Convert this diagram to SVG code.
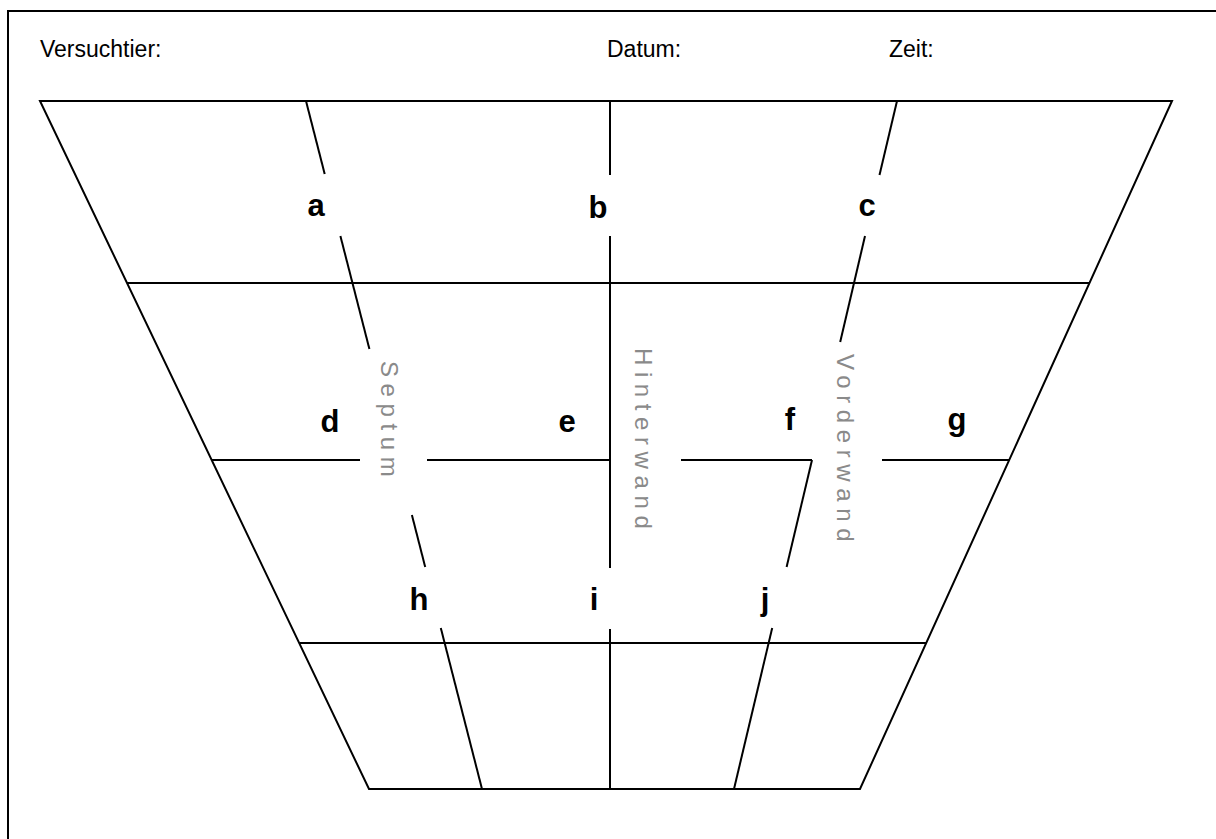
<svg xmlns="http://www.w3.org/2000/svg" width="1216" height="839" viewBox="0 0 1216 839">
<style>
.ln{stroke:#000;stroke-width:2;fill:none;stroke-linecap:butt}
.hd{font-family:"Liberation Sans",Arial,sans-serif;font-size:23px;fill:#000}
.lb{font-family:"Liberation Sans",Arial,sans-serif;font-size:31px;font-weight:bold;fill:#000;text-anchor:middle}
.wall{font-family:"Liberation Sans",Arial,sans-serif;font-size:24px;fill:#8a8a8a;letter-spacing:6.6px}
</style>
<rect x="0" y="0" width="1216" height="839" fill="#fff"/>
<g id="frame">
<polyline class="ln" points="8,845 8,11 1225,11"/>
</g>
<g id="header">
<text class="hd" x="40" y="57">Versuchtier:</text>
<text class="hd" x="607" y="57">Datum:</text>
<text class="hd" x="889" y="57">Zeit:</text>
</g>
<g id="connectors">
<polygon class="ln" points="40,101 1172,101 860,789 369,789"/>
<line class="ln" x1="127" y1="283" x2="1089" y2="283"/>
<line class="ln" x1="300" y1="643" x2="926" y2="643"/>
<line class="ln" x1="212" y1="460" x2="360" y2="460"/>
<line class="ln" x1="427" y1="460" x2="610" y2="460"/>
<line class="ln" x1="681" y1="460" x2="812" y2="460"/>
<line class="ln" x1="882" y1="460" x2="1009" y2="460"/>
<line class="ln" x1="610" y1="101" x2="610" y2="175"/>
<line class="ln" x1="610" y1="236" x2="610" y2="568"/>
<line class="ln" x1="610" y1="629" x2="610" y2="789"/>
<line class="ln" x1="306" y1="101" x2="324.7" y2="174"/>
<line class="ln" x1="340.4" y1="236" x2="369.4" y2="349"/>
<line class="ln" x1="411.9" y1="515" x2="425.2" y2="567"/>
<line class="ln" x1="440.8" y1="628" x2="482" y2="789"/>
<line class="ln" x1="897" y1="101" x2="879.5" y2="175"/>
<line class="ln" x1="865" y1="236" x2="840.2" y2="342"/>
<line class="ln" x1="812" y1="460" x2="786.6" y2="567"/>
<line class="ln" x1="772.2" y1="628" x2="734" y2="789"/>
</g>
<g id="label-a"><text class="lb" x="316" y="216">a</text></g>
<g id="label-b"><text class="lb" x="598" y="218">b</text></g>
<g id="label-c"><text class="lb" x="867" y="216">c</text></g>
<g id="label-d"><text class="lb" x="330" y="432">d</text></g>
<g id="label-e"><text class="lb" x="567" y="432">e</text></g>
<g id="label-f"><text class="lb" x="790" y="430">f</text></g>
<g id="label-g"><text class="lb" x="957" y="430">g</text></g>
<g id="label-h"><text class="lb" x="419" y="610">h</text></g>
<g id="label-i"><text class="lb" x="594" y="610">i</text></g>
<g id="label-j"><text class="lb" x="765" y="610">j</text></g>
<g id="wall-septum"><text class="wall" transform="translate(381,361) rotate(90)">Septum</text></g>
<g id="wall-hinterwand"><text class="wall" transform="translate(635,348) rotate(90)">Hinterwand</text></g>
<g id="wall-vorderwand"><text class="wall" transform="translate(837,354) rotate(90)">Vorderwand</text></g>
</svg>
